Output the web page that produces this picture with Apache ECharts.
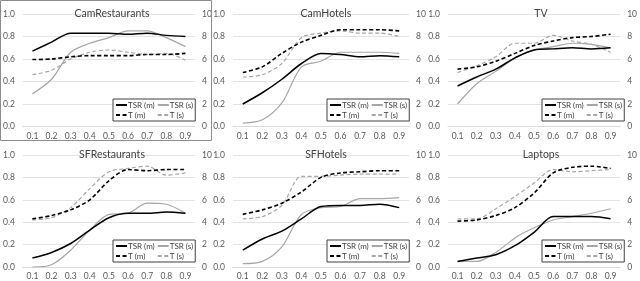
<!DOCTYPE html>
<html><head><meta charset="utf-8">
<script src="https://cdn.jsdelivr.net/npm/echarts@6/dist/echarts.min.js"></script>
<style>html,body{margin:0;padding:0;background:#fff}#c{width:640px;height:281px}</style>
</head><body><div id="c"></div>
<script>
const categories = ['0.1','0.2','0.3','0.4','0.5','0.6','0.7','0.8','0.9'];
const panelTitles = ['CamRestaurants','CamHotels','TV','SFRestaurants','SFHotels','Laptops'];
const seriesNames = ['TSR (m)','TSR (s)','T (m)','T (s)'];

const camRestaurantsTsrM = [0.67,0.75,0.83,0.83,0.83,0.82,0.83,0.81,0.80];
const camRestaurantsTsrS = [0.29,0.42,0.66,0.74,0.79,0.85,0.85,0.79,0.71];
const camRestaurantsTM   = [5.95,6.0,6.2,6.3,6.3,6.3,6.4,6.4,6.5];
const camRestaurantsTS   = [4.6,5.0,6.0,6.6,6.8,6.6,6.4,6.5,5.9];

const camHotelsTsrM = [0.20,0.30,0.42,0.56,0.65,0.64,0.62,0.63,0.62];
const camHotelsTsrS = [0.03,0.06,0.21,0.53,0.58,0.66,0.66,0.66,0.65];
const camHotelsTM   = [4.8,5.3,6.5,7.5,8.1,8.6,8.6,8.6,8.5];
const camHotelsTS   = [4.4,4.6,5.6,7.9,8.3,8.5,8.3,8.3,8.0];

const tvTsrM = [0.36,0.44,0.51,0.61,0.68,0.69,0.70,0.69,0.70];
const tvTsrS = [0.20,0.38,0.49,0.61,0.68,0.71,0.74,0.73,0.70];
const tvTM   = [5.1,5.3,5.8,6.5,7.2,7.6,7.9,8.0,8.2];
const tvTS   = [4.8,5.4,6.2,7.4,7.4,8.1,7.6,7.3,6.6];

const sfRestaurantsTsrM = [0.08,0.13,0.21,0.33,0.44,0.48,0.48,0.49,0.48];
const sfRestaurantsTsrS = [0.00,0.02,0.15,0.33,0.47,0.48,0.57,0.56,0.48];
const sfRestaurantsTM   = [4.3,4.6,5.1,6.0,7.7,8.7,8.6,8.7,8.7];
const sfRestaurantsTS   = [4.2,4.4,5.3,7.0,8.5,8.8,9.0,8.2,8.4];

const sfHotelsTsrM = [0.15,0.25,0.32,0.43,0.54,0.55,0.55,0.56,0.53];
const sfHotelsTsrS = [0.03,0.05,0.18,0.47,0.53,0.54,0.61,0.61,0.62];
const sfHotelsTM   = [4.7,5.1,5.7,6.7,8.0,8.4,8.5,8.6,8.6];
const sfHotelsTS   = [4.3,4.5,5.5,8.1,8.1,8.2,8.3,8.3,8.3];

const laptopsTsrM = [0.05,0.08,0.11,0.19,0.31,0.45,0.45,0.45,0.43];
const laptopsTsrS = [0.05,0.05,0.13,0.26,0.35,0.42,0.45,0.48,0.52];
const laptopsTM   = [4.1,4.2,4.6,5.3,6.6,8.4,8.9,9.0,8.8];
const laptopsTS   = [4.3,4.3,5.2,6.3,7.5,8.7,8.5,8.6,8.7];

const panelData = [
  [camRestaurantsTsrM, camRestaurantsTsrS, camRestaurantsTM, camRestaurantsTS],
  [camHotelsTsrM, camHotelsTsrS, camHotelsTM, camHotelsTS],
  [tvTsrM, tvTsrS, tvTM, tvTS],
  [sfRestaurantsTsrM, sfRestaurantsTsrS, sfRestaurantsTM, sfRestaurantsTS],
  [sfHotelsTsrM, sfHotelsTsrS, sfHotelsTM, sfHotelsTS],
  [laptopsTsrM, laptopsTsrS, laptopsTM, laptopsTS]
];

const FONT = 'Lato, "Open Sans", sans-serif';
const TXT = '#595959';
const colX = [0, 214, 429];
const rowY = [0, 141];
const styles = [
  {color:'#000000', width:1.5, type:'solid', axis:0},
  {color:'#a6a6a6', width:1.2, type:'solid', axis:0},
  {color:'#000000', width:1.6, type:[4,2.5], axis:1},
  {color:'#a6a6a6', width:1.2, type:[4,2.5], axis:1}
];

const grid=[], xAxis=[], yAxis=[], series=[], title=[], legend=[];
panelTitles.forEach((t,i)=>{
  const c=i%3, r=Math.floor(i/3);
  const x0=colX[c], y0=rowY[r];
  grid.push({left:x0+19, top:y0+14, width:176, height:112.5});
  xAxis.push({type:'category', gridIndex:i, data:categories, boundaryGap:true,
    axisTick:{show:false}, axisLine:{lineStyle:{color:'#d9d9d9'}},
    axisLabel:{color:TXT, fontSize:8.5, fontFamily:FONT, margin:5}});
  yAxis.push({type:'value', gridIndex:i, min:0, max:1, interval:0.2,
    axisLabel:{color:TXT, fontSize:8.5, fontFamily:FONT, margin:8, formatter:v=>v.toFixed(1)},
    splitLine:{lineStyle:{color:'#e3e3e3'}}, axisLine:{show:false}, axisTick:{show:false}});
  yAxis.push({type:'value', gridIndex:i, position:'right', min:0, max:10, interval:2,
    axisLabel:{color:TXT, fontSize:8.5, fontFamily:FONT, margin:7},
    splitLine:{show:false}, axisLine:{show:false}, axisTick:{show:false}});
  title.push({text:t, left:x0+19+88, top:y0+3, textAlign:'center',
    textStyle:{fontSize:10.5, fontWeight:'normal', color:'#404040', fontFamily:FONT}});
  legend.push({left:x0+113, top:y0+99, orient:'vertical', height:22, itemGap:2,
    itemWidth:11, itemHeight:8, padding:[2,2,2,2],
    borderColor:'#404040', borderWidth:1, backgroundColor:'#fff',
    itemStyle:{opacity:0},
    data:[seriesNames[0],seriesNames[2],seriesNames[1],seriesNames[3]],
    textStyle:{fontSize:8, color:'#404040', fontFamily:FONT, padding:[0,0,0,-4]}});
  panelData[i].forEach((d,k)=>{
    const s=styles[k];
    series.push({type:'line', name:seriesNames[k], xAxisIndex:i, yAxisIndex:2*i+s.axis,
      data:d, smooth:0.3, symbol:'none', z: (k%2===0)?3:2,
      lineStyle:{color:s.color, width:s.width, type:s.type}, itemStyle:{color:s.color}});
  });
});

const chart = echarts.init(document.getElementById('c'), null, {renderer:'canvas'});
chart.setOption({
  animation:false, backgroundColor:'#fff',
  title, legend, grid, xAxis, yAxis, series,
  graphic:[{type:'rect', shape:{x:0.5,y:0.5,width:211,height:140}, style:{fill:'none', stroke:'#8c8c8c', lineWidth:1}, z:100}]
});
</script></body></html>
